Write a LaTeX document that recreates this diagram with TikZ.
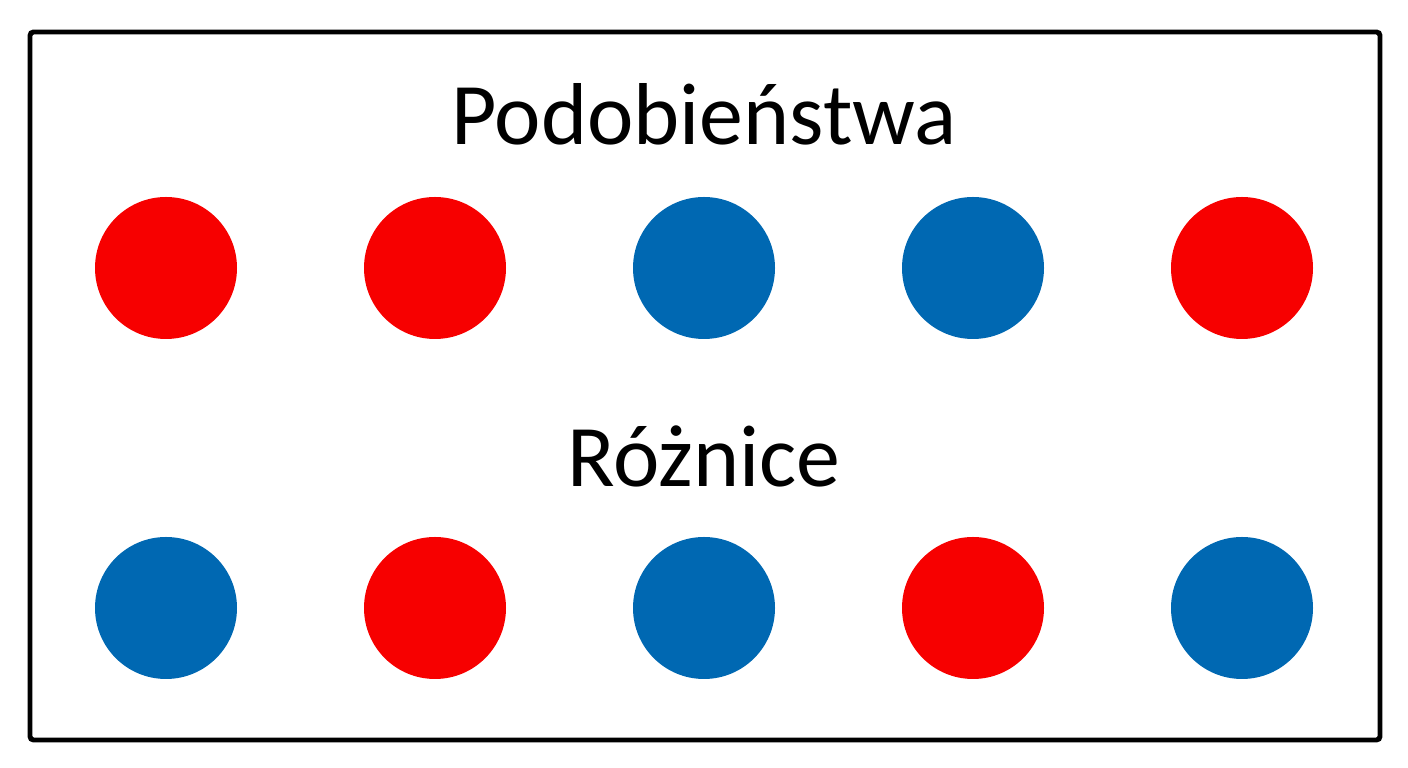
\documentclass[tikz,border=0pt]{standalone}
\usepackage{fontspec}
\setmainfont{Carlito}
\usetikzlibrary{calc}
\definecolor{dotred}{HTML}{F70000}
\definecolor{dotblue}{HTML}{0068B2}

\begin{document}
\begin{tikzpicture}[dot/.style={circle,minimum size=1.42cm,inner sep=0pt}]
            \useasboundingbox (0,0) rectangle (14.08,7.68);
            \draw[line width=1.4pt,rounded corners=1pt] (0.30,0.28) rectangle (13.80,7.36);
            \node[anchor=base,font=\fontsize{25}{30}\selectfont] (sim) at (7.04,6.23) {Podobieństwa};
            \node[anchor=base,font=\fontsize{25}{30}\selectfont] (diff) at (7.04,2.81) {Różnice};
            \foreach \c [count=\i] in {dotred,dotred,dotblue,dotblue,dotred}
                \node[dot,fill=\c] (top\i) at ({1.66+2.69*(\i-1)},5.00) {};
            \foreach \c [count=\i] in {dotblue,dotred,dotblue,dotred,dotblue}
                \node[dot,fill=\c] (bot\i) at ({1.66+2.69*(\i-1)},1.60) {};
        \end{tikzpicture}
\end{document}
